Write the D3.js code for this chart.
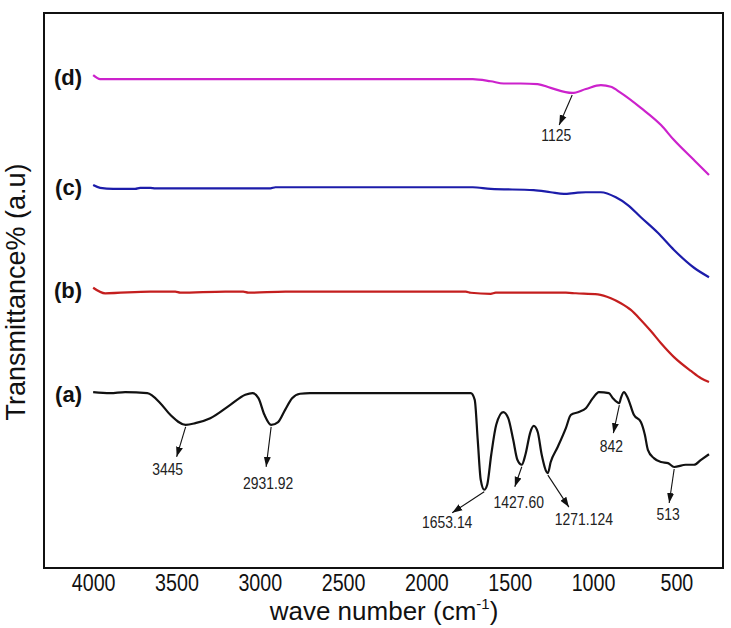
<!DOCTYPE html>
<html>
<head>
<meta charset="utf-8">
<script src="https://cdn.jsdelivr.net/npm/d3@7"></script>
<style>
  html, body { margin: 0; padding: 0; background: #fff; }
  svg { display: block; }
</style>
</head>
<body>
<svg id="chart" width="731" height="628"></svg>
<script>
// ---------- DATA ----------
const xTickValues = [4000, 3500, 3000, 2500, 2000, 1500, 1000, 500];
const seriesNames = ["(a)", "(b)", "(c)", "(d)"];
const seriesColors = ["#111111", "#c41e1e", "#1c1caa", "#cc22cc"];

const waveA = [4000, 3898, 3808, 3675, 3597, 3537, 3445, 3387, 3297, 3177, 3087, 3044, 3008, 2972, 2931.92, 2890, 2848, 2806, 2758, 2698,
  1734, 1710, 1692, 1674, 1653.14, 1635, 1611, 1581, 1539, 1509, 1479, 1454, 1427.6, 1406, 1376, 1356, 1332, 1308, 1271.124, 1254,
  1212, 1163, 1133, 1085, 1043, 1001, 965, 905, 881, 842, 833, 815, 791, 755, 713, 689, 671, 635, 592, 550, 513, 443, 394, 352, 304];
const transA = [31.7, 31.5, 31.7, 31.5, 29.7, 27.6, 25.8, 26.1, 27.0, 29.4, 31.2, 31.5, 30.6, 27.6, 25.8, 26.3, 28.5, 30.6, 31.4, 31.5,
  31.5, 30.3, 23.1, 15.9, 14.1, 15.0, 20.4, 25.8, 28.1, 27.0, 23.1, 19.5, 18.6, 20.4, 24.5, 25.6, 24.5, 20.4, 17.1, 19.1,
  21.8, 25.2, 27.6, 28.1, 28.8, 30.6, 31.7, 31.5, 30.6, 29.7, 30.6, 31.7, 30.6, 27.6, 26.3, 24.0, 21.3, 19.8, 19.1, 18.9, 18.2, 18.6, 18.6, 19.5, 20.5];

const waveB = [4000, 3928, 3657, 3507, 3477, 3207, 3099, 3069, 2846, 1764, 1734, 1614, 1584, 1163, 1103, 971, 893, 833, 773, 713, 653, 592, 514, 412, 352, 304];
const transB = [50.5, 49.5, 49.8, 49.8, 49.6, 49.8, 49.8, 49.6, 49.8, 49.8, 49.6, 49.4, 49.6, 49.6, 49.5, 49.3, 48.6, 47.7, 46.5, 44.7, 42.7, 40.5, 38.0, 35.5, 34.2, 33.5];

const waveC = [4000, 3958, 3880, 3748, 3718, 3657, 3627, 2936, 2906, 1722, 1614, 1356, 1254, 1175, 1103, 1043, 953, 863, 791, 713, 611, 514, 394, 304];
const transC = [69.0, 68.5, 68.3, 68.3, 68.5, 68.5, 68.4, 68.4, 68.6, 68.6, 68.3, 68.1, 67.7, 67.4, 67.6, 67.7, 67.7, 66.8, 65.4, 63.2, 60.4, 57.3, 54.1, 52.4];

const waveD = [4000, 3958, 3357, 2756, 2155, 1722, 1614, 1536, 1434, 1332, 1254, 1125, 1043, 953, 893, 833, 713, 592, 514, 394, 304];
const transD = [88.8, 88.1, 88.1, 88.1, 88.1, 88.1, 87.7, 87.3, 87.3, 87.2, 86.5, 85.6, 86.3, 87.0, 86.7, 85.6, 82.9, 79.8, 77.1, 73.5, 70.8];

// peak annotations: series index, wavenumber, label
const peakSeries = [0, 0, 0, 0, 0, 0, 0, 3];
const peakWaves = [3445, 2931.92, 1653.14, 1427.6, 1271.124, 842, 513, 1125];
const peakLabels = ["3445", "2931.92", "1653.14", "1427.60", "1271.124", "842", "513", "1125"];

// ---------- LAYOUT ----------
const W = 731, H = 628;
const box = { left: 44, top: 13, right: 723, bottom: 568 };
// arrow end offset and label offset (pixels, relative to the peak point)
const arrowLayout = [
  { ex: -9, ey: 32, lx: -18, ly: 50 },
  { ex: -5, ey: 42, lx: -3, ly: 64 },
  { ex: -32, ey: 23, lx: -37, ly: 38 },
  { ex: -7, ey: 22, lx: -3, ly: 43 },
  { ex: 21, ey: 34, lx: 36, ly: 52 },
  { ex: -6, ey: 30, lx: -8, ly: 49 },
  { ex: -5, ey: 36, lx: -6, ly: 53 },
  { ex: -13, ey: 32, lx: -16, ly: 48 }
];

const svg = d3.select("#chart");
const x = d3.scaleLinear().domain([4295, 220]).range([box.left, box.right]);
const y = d3.scaleLinear().domain([0, 100]).range([box.bottom, box.top]);

const series = [
  { wave: waveA, trans: transA },
  { wave: waveB, trans: transB },
  { wave: waveC, trans: transC },
  { wave: waveD, trans: transD }
];

svg.append("defs").append("marker")
  .attr("id", "arrow")
  .attr("viewBox", "0 0 10 10")
  .attr("refX", 10).attr("refY", 5)
  .attr("markerWidth", 10).attr("markerHeight", 10)
  .attr("markerUnits", "userSpaceOnUse")
  .attr("orient", "auto")
  .append("path").attr("d", "M0,1.5 L10,5 L0,8.5 Z").attr("fill", "#111");

// lines
const line = d3.line().x(d => x(d[0])).y(d => y(d[1])).curve(d3.curveMonotoneX);
series.forEach((s, i) => {
  const pts = s.wave.map((w, k) => [w, s.trans[k]]);
  svg.append("path")
    .attr("d", line(pts))
    .attr("fill", "none")
    .attr("stroke", seriesColors[i])
    .attr("stroke-width", 2.2)
    .attr("stroke-linejoin", "round");
  svg.append("text")
    .attr("x", 82)
    .attr("y", y(s.trans[0]) + 10)
    .attr("text-anchor", "end")
    .attr("font-family", "Liberation Sans, Arial, sans-serif")
    .attr("font-weight", "bold")
    .attr("font-size", 22)
    .attr("fill", "#111")
    .text(seriesNames[i]);
});

// annotations
peakWaves.forEach((w, i) => {
  const s = series[peakSeries[i]];
  const k = s.wave.indexOf(w);
  const px = x(w), py = y(s.trans[k]);
  const L = arrowLayout[i];
  svg.append("line")
    .attr("x1", px).attr("y1", py + 2)
    .attr("x2", px + L.ex).attr("y2", py + L.ey)
    .attr("stroke", "#111").attr("stroke-width", 1.1)
    .attr("marker-end", "url(#arrow)");
  svg.append("text")
    .attr("transform", `translate(${px + L.lx},${py + L.ly}) scale(0.82,1)`)
    .attr("text-anchor", "middle")
    .attr("font-family", "Liberation Sans, Arial, sans-serif")
    .attr("font-size", 17)
    .attr("fill", "#222")
    .text(peakLabels[i]);
});

// frame
svg.append("rect")
  .attr("x", box.left).attr("y", box.top)
  .attr("width", box.right - box.left).attr("height", box.bottom - box.top)
  .attr("fill", "none").attr("stroke", "#111").attr("stroke-width", 2);

// x axis
const xAxis = svg.append("g")
  .attr("transform", `translate(0,${box.bottom})`)
  .call(d3.axisBottom(x).tickValues(xTickValues).tickSize(0).tickPadding(0).tickFormat(d3.format("d")));
xAxis.select(".domain").remove();
xAxis.selectAll("text")
  .attr("y", 23).attr("dy", 0)
  .attr("transform", "scale(0.82,1)")
  .attr("font-family", "Liberation Sans, Arial, sans-serif")
  .attr("font-size", 24)
  .attr("fill", "#111");

// axis titles
const xt = svg.append("text")
  .attr("x", 384).attr("y", 620)
  .attr("text-anchor", "middle")
  .attr("font-family", "Liberation Sans, Arial, sans-serif")
  .attr("font-size", 26)
  .attr("fill", "#111");
xt.append("tspan").text("wave number (cm");
xt.append("tspan").attr("font-size", 15).attr("dy", -11).text("-1");
xt.append("tspan").attr("dy", 11).text(")");

svg.append("text")
  .attr("transform", "translate(25,292) rotate(-90)")
  .attr("text-anchor", "middle")
  .attr("font-family", "Liberation Sans, Arial, sans-serif")
  .attr("font-size", 27)
  .attr("fill", "#111")
  .text("Transmittance% (a.u)");
</script>
</body>
</html>
